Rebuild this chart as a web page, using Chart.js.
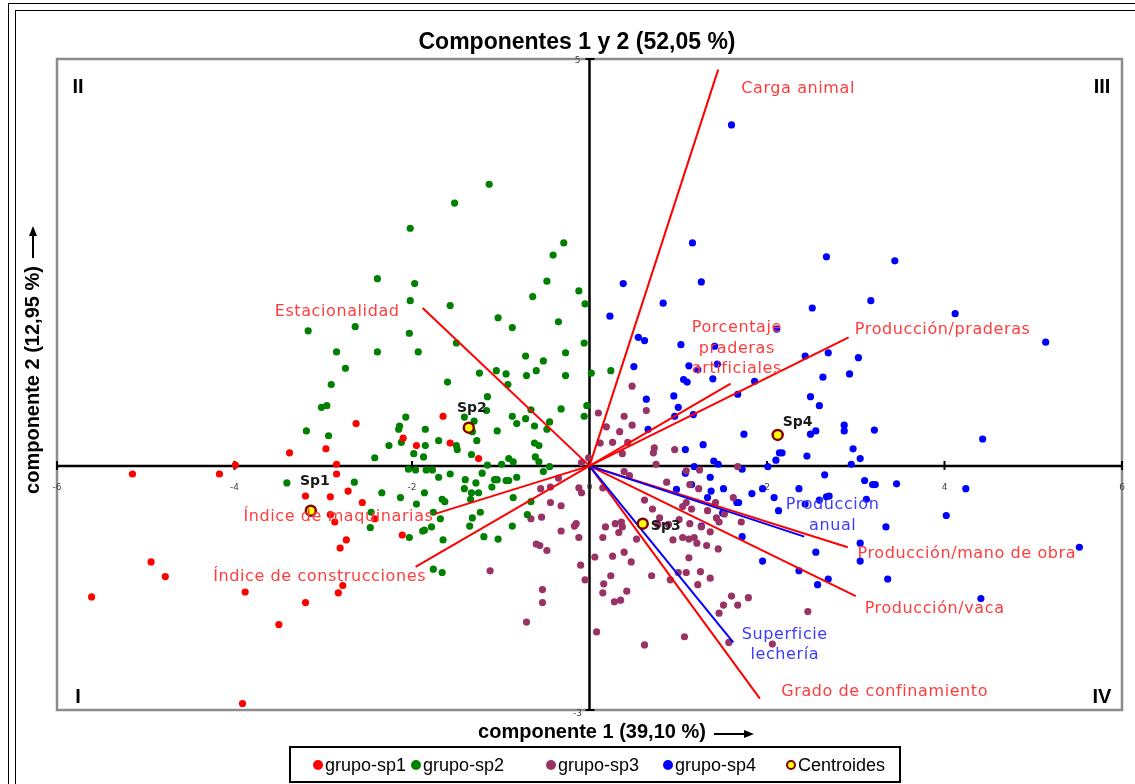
<!DOCTYPE html>
<html>
<head>
<meta charset="utf-8">
<script src="https://cdn.jsdelivr.net/npm/chart.js@4.4.1/dist/chart.umd.min.js"></script>
<style>
html, body { margin: 0; padding: 0; background: #fff; }
#caja { width: 1135px; height: 784px; position: relative; }
</style>
</head>
<body>
<div id="caja"><canvas id="grafico"></canvas></div>
<script>
// Puntuaciones de cada explotación en los componentes 1 y 2, por grupo
const grupoSp1 = [
    [-5.15,-0.10],[-4.17,-0.10],[-3.99,0.01],[-4.94,-1.18],[-4.78,-1.36],[-5.61,-1.61],[-3.88,-1.55],[-3.91,-2.92],
    [-2.63,0.52],[-3.38,0.16],[-2.97,0.21],[-2.85,0.02],[-2.10,0.34],[-1.95,0.25],[-1.65,0.61],[-1.57,0.28],[-1.25,0.09],
    [-2.85,-0.10],[-2.72,-0.31],[-2.92,-0.38],[-3.20,-0.37],[-2.56,-0.45],[-2.42,-0.65],[-2.92,-0.60],[-2.87,-0.69],
    [-2.74,-0.91],[-2.81,-1.01],[-2.11,-0.85],[-2.78,-1.47],[-2.83,-1.56],[-3.20,-1.68],[-3.50,-1.95]
];

const grupoSp2 = [
    [-1.13,3.46],[-1.52,3.23],[-2.02,2.92],[-0.29,2.74],[-0.41,2.59],[-2.39,2.30],[-0.48,2.27],[-1.97,2.24],
    [-0.64,2.08],[-0.12,2.15],[-0.05,1.99],[-2.02,2.03],[-1.57,1.97],[-3.17,1.66],[-2.64,1.71],[-2.03,1.63],
    [-1.03,1.82],[-0.87,1.70],[-0.35,1.77],[-1.50,1.51],[-2.85,1.40],[-2.39,1.40],[-1.93,1.40],[-0.06,1.51],
    [-0.72,1.35],[-0.52,1.29],[-0.27,1.39],[-2.75,1.20],[-1.24,1.14],[-1.05,1.17],[-0.94,1.13],[-0.71,1.11],
    [-0.60,1.17],[-0.27,1.11],[0.02,1.14],[0.24,1.17],[-2.91,1.00],[-1.60,1.03],[-0.92,1.00],[-1.15,0.85],
    [-3.02,0.72],[-2.96,0.74],[-0.66,0.69],[-0.32,0.70],[-0.03,0.74],[-1.16,0.68],[-1.41,0.60],[-2.07,0.60],
    [-0.87,0.61],[-0.72,0.58],[-0.06,0.61],[-0.82,0.52],[-0.45,0.54],[-0.62,0.49],[-0.48,0.45],[-1.30,0.55],
    [-1.32,0.42],[-2.14,0.49],[-2.15,0.45],[-1.85,0.45],[-1.04,0.43],[-3.19,0.43],[-2.94,0.37],[-2.12,0.29],
    [-1.70,0.31],[-1.85,0.25],[-1.50,0.25],[-1.49,0.20],[-1.27,0.31],[-0.62,0.28],[-0.57,0.25],[-2.26,0.25],
    [-1.98,0.15],[-1.87,0.11],[-1.33,0.14],[-2.42,0.10],[-0.91,0.09],[-0.86,0.05],[-0.61,0.11],[-0.57,0.05],
    [-1.15,0.01],[-0.99,0.02],[-0.45,-0.01],[-0.52,-0.07],[-2.04,-0.04],[-1.96,-0.05],[-1.84,-0.05],[-1.77,-0.05],
    [-1.57,-0.10],[-1.70,-0.14],[-1.21,-0.09],[-1.40,-0.17],[-1.28,-0.21],[-1.07,-0.17],[-1.04,-0.17],[-0.94,-0.18],
    [-0.91,-0.18],[-0.82,-0.14],[-1.10,-0.26],[-1.41,-0.28],[-1.33,-0.33],[-1.25,-0.33],[-1.34,-0.41],[-0.86,-0.39],
    [-0.66,-0.44],[-3.41,-0.21],[-2.65,-0.20],[-2.34,-0.33],[-2.13,-0.39],[-1.86,-0.33],[-1.95,-0.47],[-1.66,-0.41],
    [-1.63,-0.44],[-2.46,-0.57],[-2.47,-0.76],[-1.76,-0.57],[-1.68,-0.65],[-1.78,-0.75],[-1.86,-0.79],[-1.88,-0.80],
    [-1.32,-0.64],[-1.23,-0.57],[-1.35,-0.74],[-0.87,-0.74],[-0.70,-0.60],[-2.03,-0.88],[-1.65,-0.91],[-1.19,-0.87],
    [-1.03,-0.90],[-1.76,-1.27],[-1.66,-1.31]
];

const grupoSp3 = [
    [0.75,0.02],[0.39,-0.07],[0.45,-0.12],[1.09,-0.06],[1.24,-0.05],[0.87,-0.20],[1.13,-0.23],[1.23,-0.28],
    [0.15,-0.27],[0.62,-0.42],[0.71,-0.53],[1.09,-0.45],[1.05,-0.50],[1.15,-0.53],[1.33,-0.55],[1.42,-0.45],
    [1.62,-0.39],[1.52,-0.59],[1.43,-0.64],[1.46,-0.69],[1.71,-0.69],[0.18,-0.75],[0.29,-0.71],[0.36,-0.69],
    [0.37,-0.75],[0.33,-0.82],[0.15,-0.88],[0.53,-0.90],[0.79,-0.64],[0.77,-0.72],[0.89,-0.72],[1.01,-0.66],
    [1.13,-0.71],[1.26,-0.75],[1.36,-0.81],[0.94,-0.91],[1.05,-0.88],[1.12,-0.90],[1.18,-0.88],[1.21,-0.95],
    [1.32,-0.98],[1.45,-1.02],[0.06,-1.12],[0.26,-1.11],[0.39,-1.06],[0.47,-1.18],[1.12,-1.13],[0.24,-1.35],
    [0.70,-1.35],[0.91,-1.40],[1.00,-1.31],[1.09,-1.31],[1.25,-1.30],[1.36,-1.38],[1.22,-1.46],[0.16,-1.45],
    [0.15,-1.56],[0.42,-1.54],[0.28,-1.67],[0.35,-1.65],[1.60,-1.60],[1.79,-1.62],[1.51,-1.71],[1.67,-1.71],
    [1.46,-1.81],[2.46,-1.79],[0.08,-2.04],[1.07,-2.10],[0.62,-2.20],[1.57,-2.17],[2.06,-2.19],
    [0.48,0.98],[0.10,0.65],[0.39,0.61],[0.64,0.68],[0.19,0.48],[0.34,0.42],[0.48,0.50],[0.12,0.28],
    [0.26,0.29],[0.43,0.29],[0.37,0.15],[0.73,0.22],[0.72,0.16],[0.96,0.20],[1.67,-0.01],
    [-0.09,0.04],[-0.01,0.10],[-0.35,-0.15],[-0.44,-0.26],[-0.55,-0.28],[-0.12,-0.27],[-0.09,-0.33],[-0.44,-0.45],
    [-0.32,-0.49],[-0.66,-0.65],[-0.54,-0.63],[-0.17,-0.74],[-0.15,-0.71],[-0.32,-0.80],[-0.12,-0.88],[-0.60,-0.96],
    [-0.56,-0.98],[-0.48,-1.04],[-0.10,-1.22],[-1.12,-1.29],[-0.05,-1.40],[-0.53,-1.52],[-0.53,-1.68],[-0.71,-1.92]
];

const grupoSp4 = [
    [1.60,4.19],[1.16,2.74],[2.67,2.57],[3.44,2.52],[0.38,2.24],[1.26,2.26],[0.83,2.00],[3.17,2.03],
    [2.51,1.94],[0.23,1.84],[0.55,1.58],[0.62,1.54],[2.11,1.68],[1.03,1.49],[1.41,1.47],[2.43,1.35],
    [2.69,1.39],[3.03,1.33],[0.50,1.22],[1.12,1.23],[1.44,1.25],[1.22,1.18],[1.39,1.07],[1.06,1.06],
    [1.10,1.03],[2.63,1.09],[2.93,1.13],[1.86,1.04],[1.67,0.88],[0.64,0.82],[0.95,0.86],[1.00,0.72],
    [2.49,0.85],[2.59,0.74],[0.96,0.61],[1.17,0.63],[0.66,0.45],[1.74,0.39],[2.49,0.39],[2.55,0.43],
    [2.87,0.50],[2.87,0.43],[3.21,0.44],[1.28,0.26],[1.08,0.20],[2.14,0.16],[2.17,0.16],[2.45,0.12],
    [2.97,0.21],[3.05,0.09],[2.10,0.07],[1.40,0.06],[1.45,0.02],[2.95,0.02],[1.18,-0.01],[1.72,-0.04],
    [2.01,-0.01],[1.08,-0.09],[1.36,-0.14],[1.15,-0.23],[0.98,-0.29],[1.37,-0.31],[1.51,-0.28],[2.65,-0.11],
    [3.10,-0.18],[3.19,-0.23],[3.22,-0.23],[3.46,-0.22],[2.36,-0.28],[1.83,-0.34],[2.08,-0.39],[1.95,-0.28],
    [2.59,-0.42],[2.67,-0.38],[2.70,-0.37],[3.12,-0.41],[1.33,-0.39],[1.66,-0.45],[1.68,-0.45],[2.13,-0.55],
    [2.43,-0.47],[1.50,-0.58],[1.26,-0.74],[1.72,-0.87],[3.34,-0.75],[2.55,-1.06],[3.05,-0.95],[3.05,-1.17],
    [1.95,-1.17],[2.36,-1.29],[2.69,-1.39],[2.57,-1.46],[3.36,-1.39],[4.12,1.87],[5.14,1.52],[4.43,0.33],
    [4.24,-0.28],[4.02,-0.61],[5.52,-1.00],[4.41,-1.63]
];

// Centroides de los cuatro grupos
const centroidesNombres = ['Sp1', 'Sp2', 'Sp3', 'Sp4'];
const centroidesX = [-3.14, -1.36, 0.60, 2.12];
const centroidesY = [-0.55, 0.47, -0.71, 0.38];

// Vectores de las variables (cargas en los componentes 1 y 2)
const variables = ['Carga animal', 'Estacionalidad', 'Producción/praderas', 'Porcentaje praderas artificiales',
    'Produccion anual', 'Producción/mano de obra', 'Producción/vaca', 'Superficie lechería',
    'Grado de confinamiento', 'Índice de maquinarias', 'Índice de construcciones'];
const variablesX = [1.45, -1.88, 2.92, 1.59, 2.42, 2.91, 3.00, 1.62, 1.92, -1.74, -1.96];
const variablesY = [4.87, 1.94, 1.58, 1.01, -0.87, -1.00, -1.60, -2.17, -2.86, -0.59, -1.24];

// Marcas de los ejes
const ticksX = [-6, -4, -2, 0, 2, 4, 6];
const ticksY = [-3, 5];

// Colocación de los textos de cada variable (en unidades de los ejes)
const etiquetas = {
    'Carga animal': { x: 1.71, y: 4.63, align: 'left', lineas: ['Carga animal'] },
    'Estacionalidad': { x: -2.14, y: 1.89, align: 'right', lineas: ['Estacionalidad'] },
    'Producción/praderas': { x: 2.99, y: 1.67, align: 'left', lineas: ['Producción/praderas'] },
    'Porcentaje praderas artificiales': { x: 1.66, y: 1.44, align: 'center', lineas: ['Porcentaje', 'praderas', 'artificiales'] },
    'Produccion anual': { x: 2.74, y: -0.61, align: 'center', lineas: ['Produccion', 'anual'] },
    'Producción/mano de obra': { x: 3.02, y: -1.08, align: 'left', lineas: ['Producción/mano de obra'] },
    'Producción/vaca': { x: 3.10, y: -1.76, align: 'left', lineas: ['Producción/vaca'] },
    'Superficie lechería': { x: 2.20, y: -2.20, align: 'center', lineas: ['Superficie', 'lechería'] },
    'Grado de confinamiento': { x: 2.16, y: -2.78, align: 'left', lineas: ['Grado de confinamiento'] },
    'Índice de maquinarias': { x: -3.90, y: -0.63, align: 'left', lineas: ['Índice de maquinarias'] },
    'Índice de construcciones': { x: -4.24, y: -1.36, align: 'left', lineas: ['Índice de construcciones'] }
};
const variablesAzules = ['Produccion anual', 'Superficie lechería'];

// Desplazamiento (px) del nombre de cada centroide
const desplCentroides = [[4, -29], [3, -19], [23, 3], [20, -13]];

const coloresGrupos = ['#ff0000', '#008000', '#993366', '#0000ff'];
const nombresGrupos = ['grupo-sp1', 'grupo-sp2', 'grupo-sp3', 'grupo-sp4'];

function aPuntos(lista) {
    return lista.map(p => ({ x: p[0], y: p[1] }));
}

function texto(ctx, s, x, y, fuente, color, align, base) {
    ctx.font = fuente;
    ctx.fillStyle = color;
    ctx.textAlign = align || 'left';
    ctx.textBaseline = base || 'middle';
    ctx.fillText(s, x, y);
}

function flecha(ctx, x1, y1, x2, y2) {
    const ang = Math.atan2(y2 - y1, x2 - x1);
    ctx.strokeStyle = '#000';
    ctx.fillStyle = '#000';
    ctx.lineWidth = 2;
    ctx.beginPath();
    ctx.moveTo(x1, y1);
    ctx.lineTo(x2 - 8 * Math.cos(ang), y2 - 8 * Math.sin(ang));
    ctx.stroke();
    ctx.beginPath();
    ctx.moveTo(x2, y2);
    ctx.lineTo(x2 - 10 * Math.cos(ang) + 4 * Math.sin(ang), y2 - 10 * Math.sin(ang) - 4 * Math.cos(ang));
    ctx.lineTo(x2 - 10 * Math.cos(ang) - 4 * Math.sin(ang), y2 - 10 * Math.sin(ang) + 4 * Math.cos(ang));
    ctx.closePath();
    ctx.fill();
}

// Fondo, marcos y ejes que cruzan por el origen
const planoFondo = {
    id: 'planoFondo',
    beforeDraw(chart) {
        const ctx = chart.ctx;
        const a = chart.chartArea;
        ctx.save();
        ctx.fillStyle = '#fff';
        ctx.fillRect(0, 0, chart.width, chart.height);
        ctx.strokeStyle = '#000';
        ctx.lineWidth = 1;
        ctx.strokeRect(8.5, 3.5, 1140, 800);
        ctx.strokeRect(15.5, 10.5, 1140, 800);
        ctx.strokeStyle = '#8c8c8c';
        ctx.lineWidth = 2.5;
        ctx.strokeRect(a.left, a.top, a.right - a.left, a.bottom - a.top);
        ctx.restore();
    },
    beforeDatasetsDraw(chart) {
        const ctx = chart.ctx;
        const a = chart.chartArea;
        const sx = chart.scales.x, sy = chart.scales.y;
        const x0 = sx.getPixelForValue(0), y0 = sy.getPixelForValue(0);
        ctx.save();
        ctx.strokeStyle = '#000';
        ctx.lineWidth = 2.5;
        ctx.beginPath();
        ctx.moveTo(a.left, y0); ctx.lineTo(a.right, y0);
        ctx.moveTo(x0, a.top); ctx.lineTo(x0, a.bottom);
        ctx.stroke();
        ctx.lineWidth = 2;
        ticksX.forEach(v => {
            const px = sx.getPixelForValue(v);
            ctx.beginPath(); ctx.moveTo(px, y0 - 5); ctx.lineTo(px, y0 + 4); ctx.stroke();
            texto(ctx, String(v), px, y0 + 22, '9px "DejaVu Sans"', '#444', 'center');
        });
        ticksY.forEach(v => {
            const py = sy.getPixelForValue(v);
            ctx.beginPath(); ctx.moveTo(x0 - 4, py); ctx.lineTo(x0 + 5, py); ctx.stroke();
            texto(ctx, String(v), x0 - 12, py + (v > 0 ? 2 : 4), '9px "DejaVu Sans"', '#444', 'center');
        });
        ctx.restore();
    },
    afterDatasetsDraw(chart) {
        const ctx = chart.ctx;
        const sx = chart.scales.x, sy = chart.scales.y;
        ctx.save();
        // nombres de las variables
        ctx.letterSpacing = '0.6px';
        variables.forEach(nombre => {
            const e = etiquetas[nombre];
            const color = variablesAzules.includes(nombre) ? '#3b3bff' : '#ff3c3c';
            const px = sx.getPixelForValue(e.x), py = sy.getPixelForValue(e.y);
            const n = e.lineas.length;
            e.lineas.forEach((l, i) => {
                texto(ctx, l, px, py + (i - (n - 1) / 2) * 20.5, '16px "DejaVu Sans"', color, e.align);
            });
        });
        ctx.letterSpacing = '0px';
        // nombres de los centroides
        centroidesNombres.forEach((n, i) => {
            const px = sx.getPixelForValue(centroidesX[i]) + desplCentroides[i][0];
            const py = sy.getPixelForValue(centroidesY[i]) + desplCentroides[i][1];
            texto(ctx, n, px, py, 'bold 14px "DejaVu Sans"', '#1a1a1a', 'center');
        });
        // cuadrantes
        const fq = 'bold 20px "Liberation Sans"';
        texto(ctx, 'II', 78, 87, fq, '#000', 'center');
        texto(ctx, 'III', 1102, 87, fq, '#000', 'center');
        texto(ctx, 'I', 78, 697, fq, '#000', 'center');
        texto(ctx, 'IV', 1102, 697, fq, '#000', 'center');
        // títulos
        texto(ctx, 'Componentes 1 y 2 (52,05 %)', 577, 43, 'bold 23px "Liberation Sans"', '#000', 'center');
        texto(ctx, 'componente 1 (39,10 %)', 592, 732, 'bold 20px "Liberation Sans"', '#000', 'center');
        flecha(ctx, 714, 734, 754, 734);
        ctx.save();
        ctx.translate(33, 380);
        ctx.rotate(-Math.PI / 2);
        texto(ctx, 'componente 2 (12,95 %)', 0, 0, 'bold 20px "Liberation Sans"', '#000', 'center');
        ctx.restore();
        flecha(ctx, 33, 258, 33, 226);
        // leyenda
        ctx.strokeStyle = '#000';
        ctx.lineWidth = 2;
        ctx.strokeRect(290, 747, 610, 35);
        const posLeyenda = [318, 416, 551, 668];
        nombresGrupos.forEach((n, i) => {
            ctx.fillStyle = coloresGrupos[i];
            ctx.beginPath(); ctx.arc(posLeyenda[i], 765, 5, 0, Math.PI * 2); ctx.fill();
            texto(ctx, n, posLeyenda[i] + 7, 766, '18px "Liberation Sans"', '#000', 'left');
        });
        ctx.fillStyle = '#ffff00';
        ctx.strokeStyle = '#800000';
        ctx.lineWidth = 2;
        ctx.beginPath(); ctx.arc(791, 765, 4, 0, Math.PI * 2); ctx.fill(); ctx.stroke();
        texto(ctx, 'Centroides', 798, 766, '18px "Liberation Sans"', '#000', 'left');
        ctx.restore();
    }
};

window.onload = () => {
    const grupos = [grupoSp1, grupoSp2, grupoSp3, grupoSp4];
    const conjuntos = grupos.map((g, i) => ({
        label: nombresGrupos[i],
        data: aPuntos(g),
        backgroundColor: coloresGrupos[i],
        borderWidth: 0,
        pointRadius: 3.6,
        order: 2
    }));
    variables.forEach((v, i) => {
        conjuntos.push({
            label: v,
            data: [{ x: 0, y: 0 }, { x: variablesX[i], y: variablesY[i] }],
            showLine: true,
            borderColor: variablesAzules.includes(v) ? '#0000ff' : '#ff0000',
            borderWidth: 2,
            pointRadius: 0,
            order: 1
        });
    });
    conjuntos.push({
        label: 'Centroides',
        data: centroidesX.map((x, i) => ({ x: x, y: centroidesY[i] })),
        backgroundColor: '#ffff00',
        borderColor: '#800000',
        borderWidth: 2.5,
        pointRadius: 5,
        order: 0
    });

    new Chart(document.getElementById('grafico'), {
        type: 'scatter',
        data: { datasets: conjuntos },
        options: {
            responsive: true,
            maintainAspectRatio: false,
            animation: false,
            layout: { padding: { left: 57, right: 13, top: 59, bottom: 74 } },
            scales: {
                x: { type: 'linear', min: -6, max: 6, display: false },
                y: { type: 'linear', min: -3, max: 5, display: false }
            },
            plugins: {
                legend: { display: false },
                tooltip: { enabled: false }
            }
        },
        plugins: [planoFondo]
    });
};
</script>
</body>
</html>
